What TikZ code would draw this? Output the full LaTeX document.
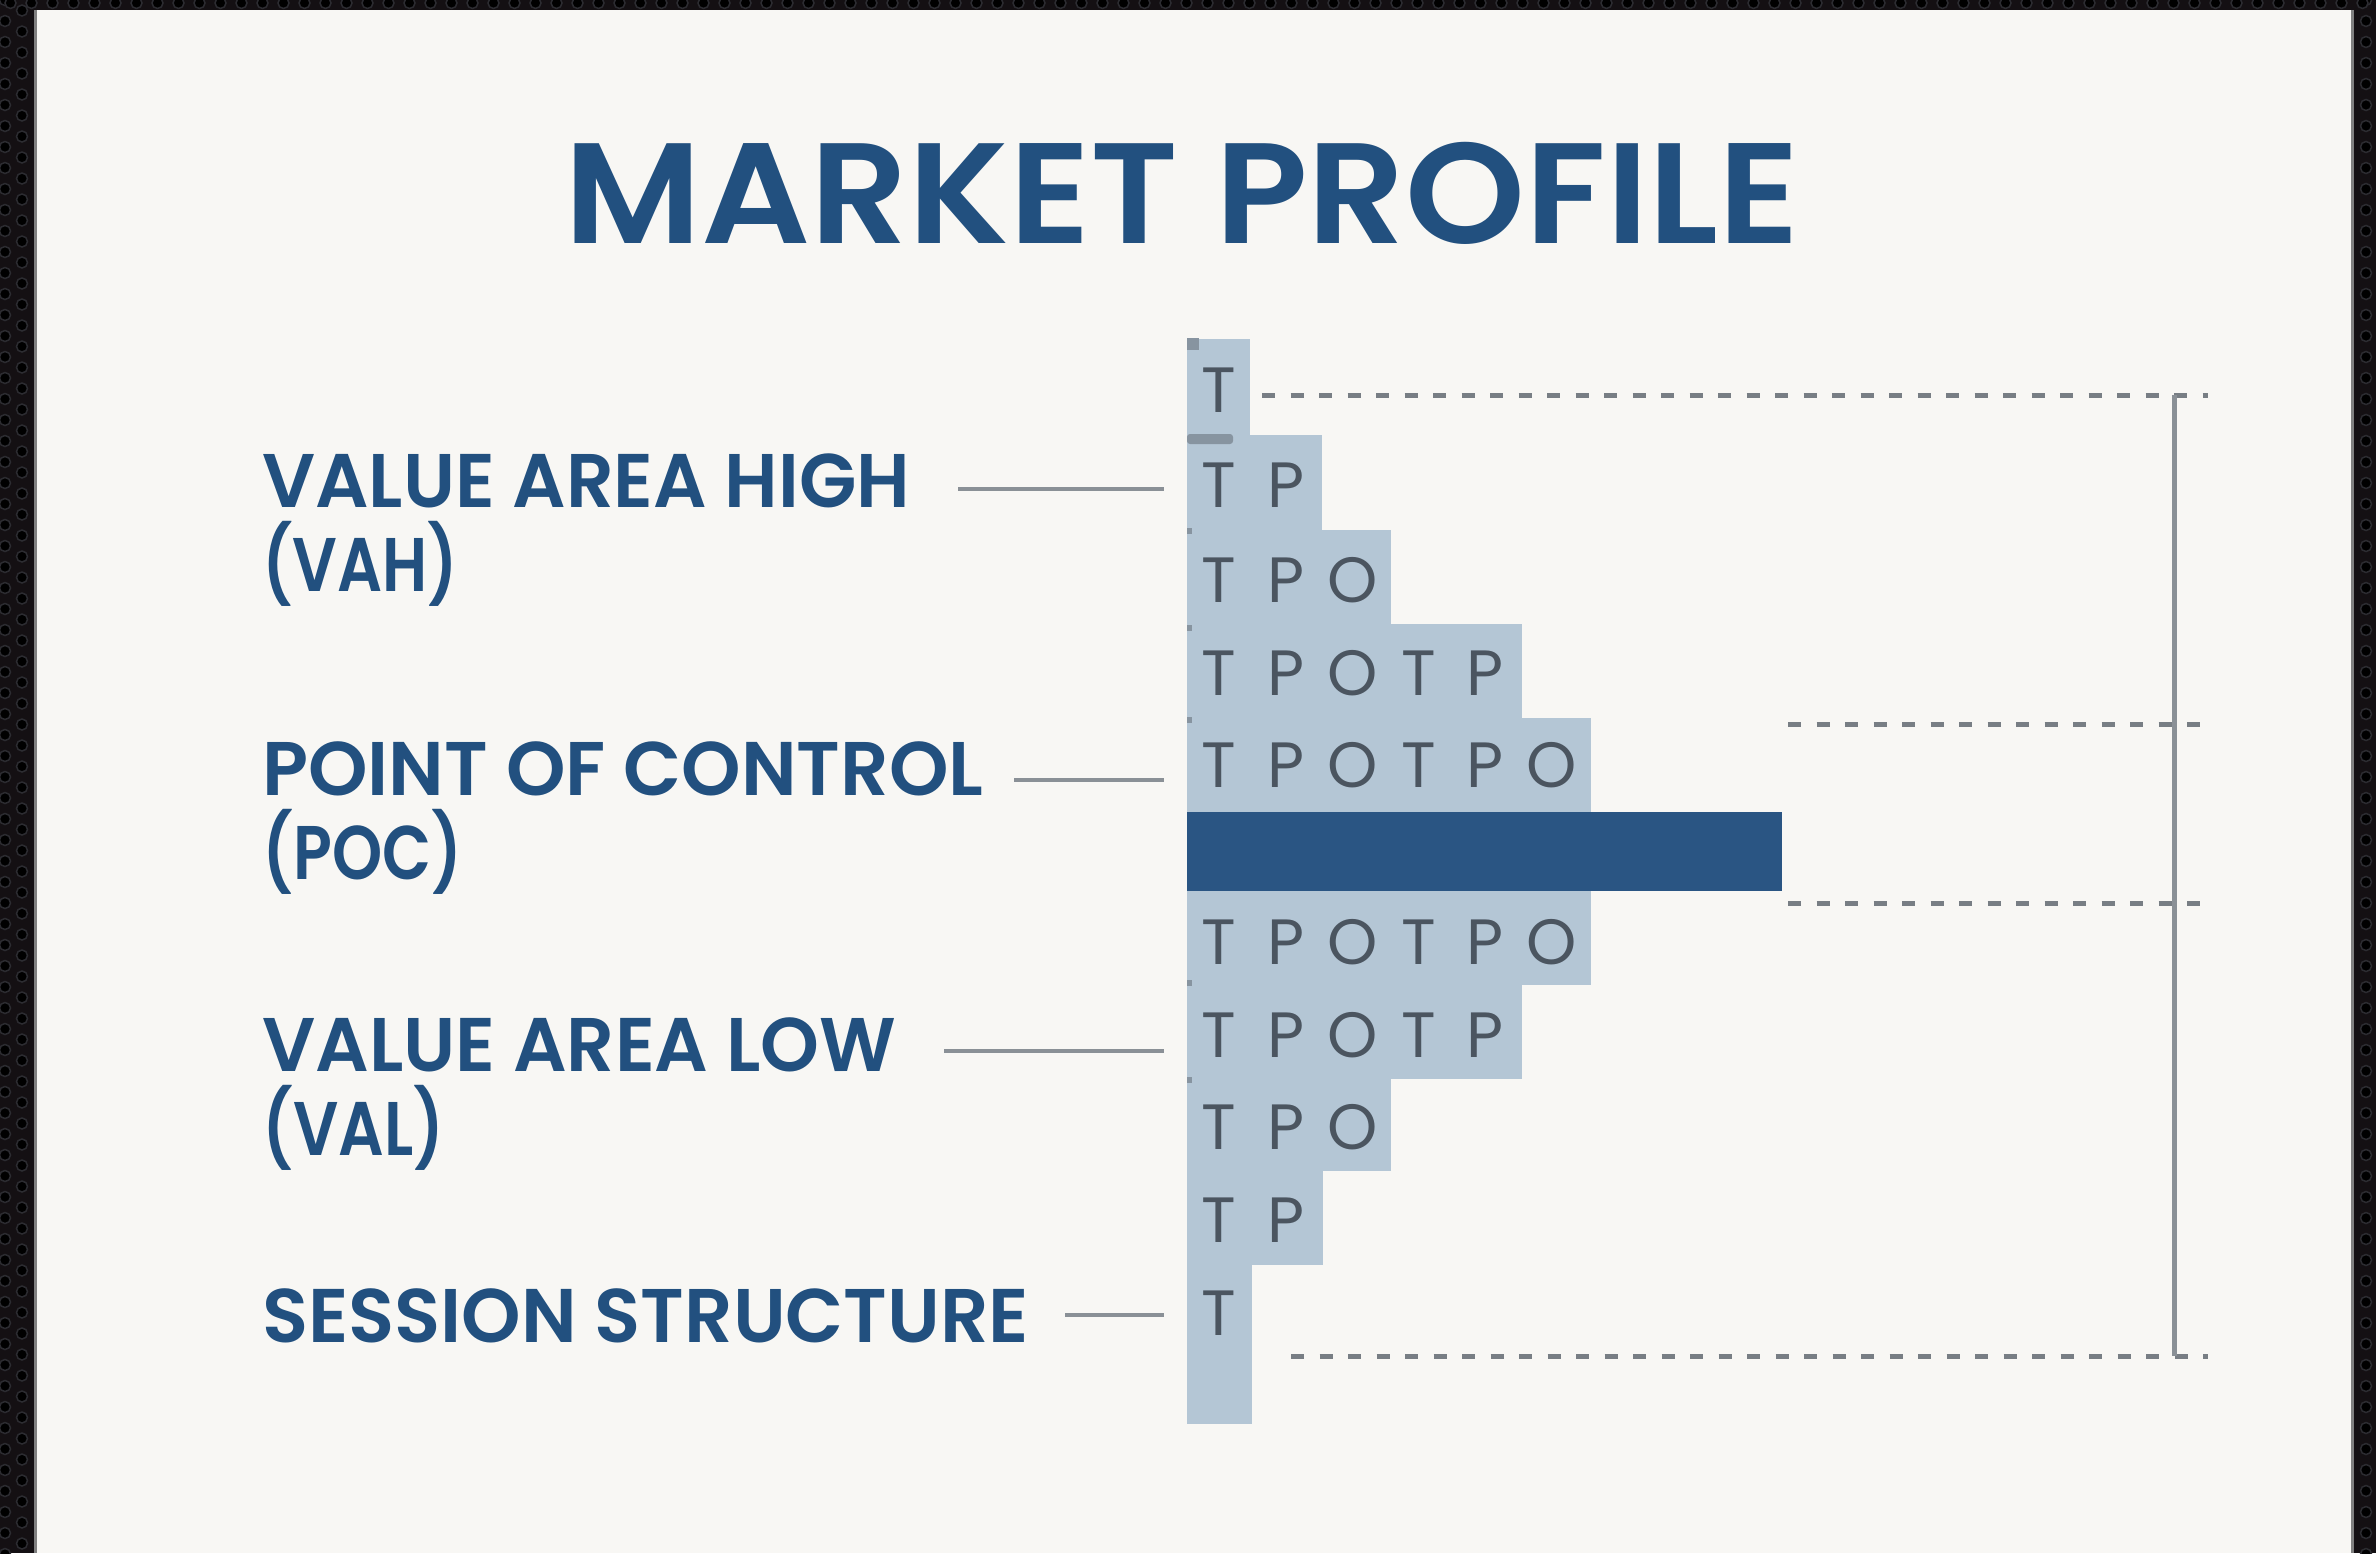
\documentclass[tikz,border=0pt]{standalone}
\usepackage{fontspec}
\usepackage{graphicx}
\newfontfamily\popfam{Poppins}
\newfontfamily\popsb{Poppins}[UprightFont=* SemiBold]
\newcommand\titlefont{\popsb\fontsize{143}{143}\selectfont}
\newcommand\labfont{\popsb\fontsize{76}{76}\selectfont}
\newcommand\tpofont{\popfam\fontsize{64}{64}\selectfont}
\definecolor{navy}{HTML}{22507F}
\definecolor{pocblue}{HTML}{2A5583}
\definecolor{barlight}{HTML}{B4C6D5}
\definecolor{tpogray}{HTML}{4B5560}
\definecolor{conngray}{HTML}{8A9096}
\definecolor{dashgray}{HTML}{787E84}
\definecolor{panelbg}{HTML}{F8F7F4}
\definecolor{outerbg}{HTML}{141013}
\definecolor{holeedge}{HTML}{2C2C31}
\definecolor{markgray}{HTML}{8794A0}
\newlength\mw
\newcommand\tpoletter[1]{\ifcase#1\or T\or P\or O\or T\or P\or O\fi}
\newcommand\measure[3]{\setbox0=\hbox{#2}\mw=\wd0\relax\pgfmathsetmacro#1{#3/\mw}}
\AtBeginDocument{%
\measure\sxt{\titlefont MARKET PROFILE}{1236}%
\measure\sxa{\labfont VALUE AREA HIGH}{648}%
\measure\sxb{\labfont POINT OF CONTROL}{721}%
\measure\sxc{\labfont VALUE AREA LOW}{634}%
\measure\sxd{\labfont SESSION STRUCTURE}{767}%
\measure\sxaa{\labfont (VAH)}{196}%
\measure\sxbb{\labfont (POC)}{200}%
\measure\sxcc{\labfont (VAL)}{182}%
}
\begin{document}
\begin{tikzpicture}[x=1pt,y=-1pt,
  lbl/.style={anchor=base west, inner sep=0pt, text=navy},
  tpo/.style={anchor=base, inner sep=0pt, text=tpogray, font=\tpofont},
  conn/.style={draw=conngray, line width=4.5pt},
  guide/.style={draw=dashgray, line width=5pt, dash pattern=on 13pt off 15.5pt},
  rangeline/.style={draw=conngray, line width=5pt},
  lightrow/.style={fill=barlight},
  edgemark/.style={fill=markgray}]
% background and frame
\useasboundingbox (0,0) rectangle (2376,1553);
\fill[outerbg] (0,0) rectangle (2376,1553);
\foreach \k in {0,...,74}{
  \draw[holeedge, line width=1.5pt, fill=black] (5,{\k*21}) circle (5.5);
  \draw[holeedge, line width=1.5pt, fill=black] (22,{\k*21+10.5}) circle (5.5);
  \draw[holeedge, line width=1.5pt, fill=black] (2366,{\k*21}) circle (5.5);
}
\foreach \k in {0,...,113}{
  \draw[holeedge, line width=1.5pt, fill=black] ({\k*21+10.5},3) circle (5.5);
}
\fill[panelbg] (34,10) rectangle (2353,1553);
\draw[gray, line width=3pt] (35,10) -- (35,1553);
\draw[gray, line width=3pt] (2352,10) -- (2352,1553);
% title
\node[anchor=base, inner sep=0pt, text=navy] (title) at (1182,243) {\scalebox{\sxt}[1]{\titlefont MARKET PROFILE}};
% profile rows
\fill[lightrow] (1187,339) rectangle (1250,435);
\fill[lightrow] (1187,435) rectangle (1322,530);
\fill[lightrow] (1187,530) rectangle (1391,624);
\fill[lightrow] (1187,624) rectangle (1522,718);
\fill[lightrow] (1187,718) rectangle (1591,812);
\fill[pocblue] (1187,812) rectangle (1782,891);
\fill[lightrow] (1187,891) rectangle (1591,985);
\fill[lightrow] (1187,985) rectangle (1522,1079);
\fill[lightrow] (1187,1079) rectangle (1391,1171);
\fill[lightrow] (1187,1171) rectangle (1323,1265);
\fill[lightrow] (1187,1265) rectangle (1252,1424);
% small marks on the column edge
\fill[edgemark] (1187,338) rectangle (1199,350);
\fill[edgemark, rounded corners=3pt] (1187,434) rectangle (1233,444);
\foreach \yy in {531,628,720,983,1080}{
  \fill[edgemark] (1187,\yy-3) rectangle (1192,\yy+3);
}
% TPO letters
\foreach \yb/\n in {412/1,507/2,602/3,695/5,787/6,964/6,1057/5,1149/3,1242/2,1335/1}{
  \foreach \i in {1,...,\n}{
    \node[tpo] (L-\yb-\i) at ({1219+66.6*(\i-1)},\yb) {\tpoletter{\i}};
  }
}
% guide lines on the right
\coordinate (topS) at (1262,395);
\coordinate (topE) at (2208,395);
\coordinate (vahS) at (1788,724);
\coordinate (vahE) at (2208,724);
\coordinate (valS) at (1788,903);
\coordinate (valE) at (2208,903);
\coordinate (botS) at (1291,1356);
\coordinate (botE) at (2208,1356);
\coordinate (rngT) at (2174,395);
\coordinate (rngB) at (2174,1356);
\draw[guide] (topS) -- (topE);
\draw[guide] (vahS) -- (vahE);
\draw[guide] (valS) -- (valE);
\draw[guide] (botS) -- (botE);
\draw[rangeline] (rngT) -- (rngB);
% labels
\node[lbl] (vah) at (262,507) {\scalebox{\sxa}[1]{\labfont VALUE AREA HIGH}};
\node[lbl] (vah2) at (262,591) {\scalebox{\sxaa}[1]{\labfont (VAH)}};
\node[lbl] (poc) at (262,795) {\scalebox{\sxb}[1]{\labfont POINT OF CONTROL}};
\node[lbl] (poc2) at (262,879) {\scalebox{\sxbb}[1]{\labfont (POC)}};
\node[lbl] (val) at (262,1071) {\scalebox{\sxc}[1]{\labfont VALUE AREA LOW}};
\node[lbl] (val2) at (262,1155) {\scalebox{\sxcc}[1]{\labfont (VAL)}};
\node[lbl] (ses) at (262,1342) {\scalebox{\sxd}[1]{\labfont SESSION STRUCTURE}};
% label connectors
\coordinate (c1s) at (958,489);  \coordinate (c1e) at (1164,489);
\coordinate (c2s) at (1014,780); \coordinate (c2e) at (1164,780);
\coordinate (c3s) at (944,1051); \coordinate (c3e) at (1164,1051);
\coordinate (c4s) at (1065,1315);\coordinate (c4e) at (1164,1315);
\draw[conn] (c1s) -- (c1e);
\draw[conn] (c2s) -- (c2e);
\draw[conn] (c3s) -- (c3e);
\draw[conn] (c4s) -- (c4e);
\end{tikzpicture}
\end{document}
